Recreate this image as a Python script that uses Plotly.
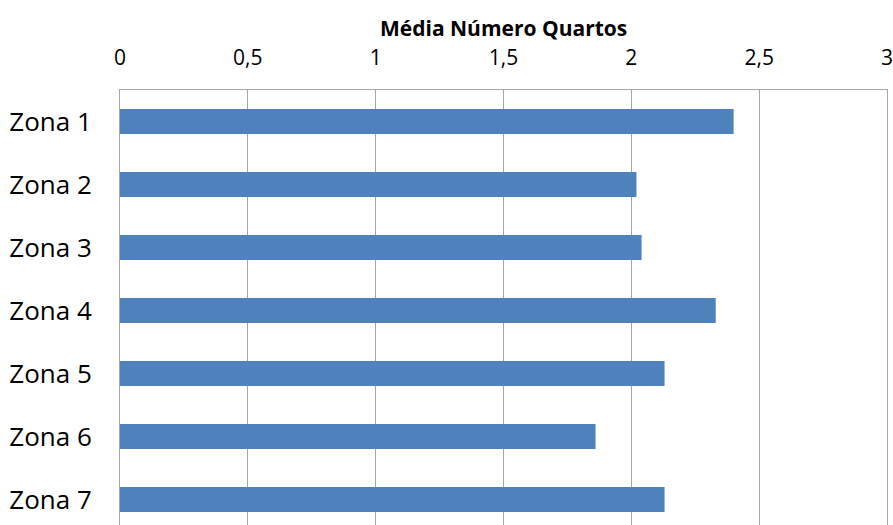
import plotly.graph_objects as go

# Average number of rooms per zone
zonas = ["Zona 1", "Zona 2", "Zona 3", "Zona 4", "Zona 5", "Zona 6", "Zona 7"]
media_quartos = [2.40, 2.02, 2.04, 2.33, 2.13, 1.86, 2.13]
x_ticks = [0, 0.5, 1, 1.5, 2, 2.5, 3]
x_tick_labels = ["0", "0,5", "1", "1,5", "2", "2,5", "3"]

FONT = "Open Sans, Liberation Sans, sans-serif"
GRID = "#a6a6a6"

fig = go.Figure(
    go.Bar(
        x=media_quartos,
        y=zonas,
        orientation="h",
        width=0.4,
        marker=dict(color="#4f81bd", line=dict(width=0)),
        hoverinfo="x+y",
    )
)

fig.update_layout(
    width=893,
    height=525,
    margin=dict(l=120, r=6, t=90, b=0),
    paper_bgcolor="white",
    plot_bgcolor="white",
    showlegend=False,
    separators=", ",
    font=dict(family=FONT, color="#000000"),
    annotations=[
        dict(
            text="<b>Média Número Quartos</b>",
            xref="paper", yref="paper",
            x=0.5, y=1, yshift=62,
            xanchor="center", yanchor="middle",
            showarrow=False,
            font=dict(family=FONT, size=21, color="#000000"),
        )
    ],
)

fig.update_xaxes(
    side="top",
    range=[0, 3],
    tickvals=x_ticks,
    ticktext=x_tick_labels,
    tickfont=dict(family=FONT, size=21, color="#000000"),
    ticks="",
    ticklabelstandoff=16,
    ticklabeloverflow="allow",
    showgrid=True,
    gridcolor=GRID,
    gridwidth=1,
    zeroline=False,
    showline=True,
    linecolor=GRID,
    linewidth=1,
    mirror=True,
    fixedrange=True,
)

fig.update_yaxes(
    type="category",
    categoryorder="array",
    categoryarray=zonas,
    range=[6.405, -0.5],
    tickfont=dict(family=FONT, size=26, color="#000000"),
    ticks="",
    ticklabelstandoff=22,
    showgrid=False,
    zeroline=False,
    showline=True,
    linecolor=GRID,
    linewidth=1,
    mirror=True,
    fixedrange=True,
)

fig.write_html("out.html")
